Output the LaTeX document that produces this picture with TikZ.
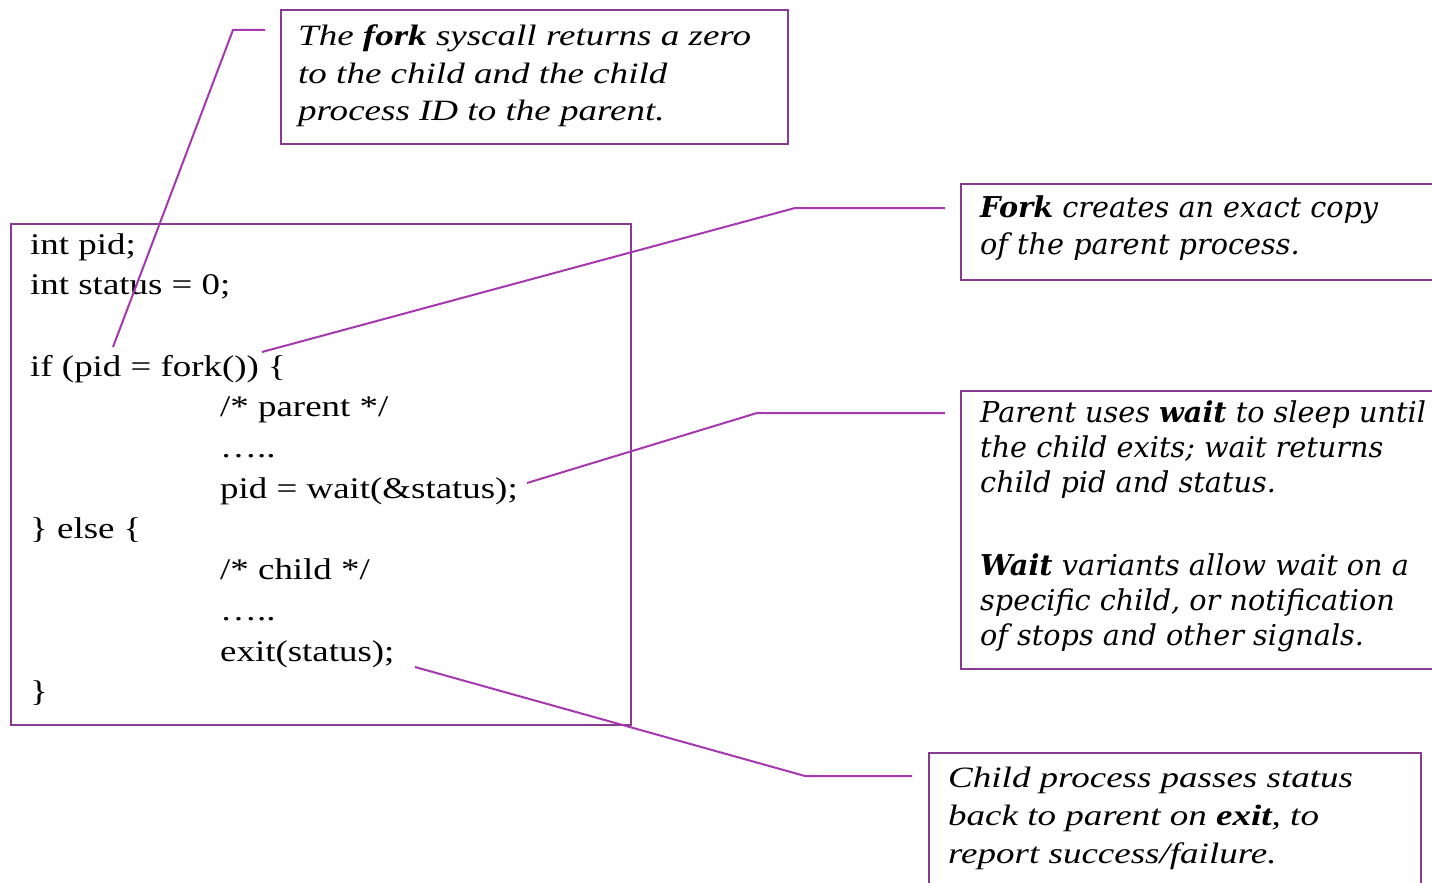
\documentclass[tikz,border=0pt]{standalone}
\usepackage{fontspec}
\setmainfont{Liberation Serif}
\newfontfamily\codefont[FakeStretch=1.23]{Liberation Serif}
\newfontfamily\notefont[FakeStretch=1.255]{Liberation Serif}
\newfontfamily\widefont{DejaVu Serif}
\definecolor{boxpurple}{RGB}{135,60,145}
\definecolor{linepurple}{RGB}{165,55,175}
\begin{document}
\begin{tikzpicture}[x=1pt,y=-1pt,
  box/.style={draw=boxpurple, line width=2.4pt, inner sep=0pt, anchor=north west},
  conn/.style={draw=linepurple, line width=2pt},
  codetext/.style={anchor=north west, inner sep=0pt, align=left, font=\codefont\fontsize{30}{40.7}\selectfont},
  notetext/.style={anchor=north west, inner sep=0pt, align=left, font=\notefont\itshape\fontsize{29.5}{37.8}\selectfont},
  widetext/.style={anchor=north west, inner sep=0pt, align=left, font=\widefont\itshape\fontsize{28.7}{35}\selectfont}]
\useasboundingbox (0,0) rectangle (1432,883);
% boxes
\node[box, minimum width=507pt, minimum height=134pt] (topbox) at (280,9) {};
\node[box, minimum width=620pt, minimum height=501pt] (codebox) at (10,223) {};
\node[box, minimum width=490pt, minimum height=96pt] (forkbox) at (960,183) {};
\node[box, minimum width=490pt, minimum height=278pt] (waitbox) at (960,390) {};
\node[box, minimum width=492pt, minimum height=160pt] (exitbox) at (928,752) {};
% texts
\node[notetext] (toptext) at (298,24.3) {The \textbf{fork} syscall returns a zero\\to the child and the child\\process ID to the parent.};
\node[codetext] (code) at (30,233) {int pid;\\int status = 0;\\[40.7pt]if (pid = fork()) \{\\
\hspace*{190pt}/* parent */\\\hspace*{190pt}\dots..\\\hspace*{190pt}pid = wait(\&status);\\
\} else \{\\\hspace*{190pt}/* child */\\\hspace*{190pt}\dots..\\\hspace*{190pt}exit(status);\\\}};
\node[widetext, font=\widefont\itshape\fontsize{28.7}{37}\selectfont] (forktext) at (980,195.5) {\textbf{Fork} creates an exact copy\\of the parent process.};
\node[widetext] (waittext) at (980,400.5) {Parent uses \textbf{wait} to sleep until\\the child exits; wait returns\\child pid and status.\\[48pt]\textbf{Wait} variants allow wait on a\\specific child, or notification\\of stops and other signals.};
\node[notetext] (exittext) at (948,767.3) {Child process passes status\\back to parent on \textbf{exit}, to\\report success/failure.};
% connector end points
\coordinate (c1a) at (265,30);
\coordinate (c1b) at (233,30);
\coordinate (c1c) at (113,347);
\coordinate (c2a) at (945,208);
\coordinate (c2b) at (795,208);
\coordinate (c2c) at (262,352);
\coordinate (c3a) at (945,413);
\coordinate (c3b) at (757,413);
\coordinate (c3c) at (527,483);
\coordinate (c4a) at (912,776);
\coordinate (c4b) at (805,776);
\coordinate (c4c) at (415,667);
\draw[conn] (c1a) -- (c1b) -- (c1c);
\draw[conn] (c2a) -- (c2b) -- (c2c);
\draw[conn] (c3a) -- (c3b) -- (c3c);
\draw[conn] (c4a) -- (c4b) -- (c4c);
\end{tikzpicture}
\end{document}
